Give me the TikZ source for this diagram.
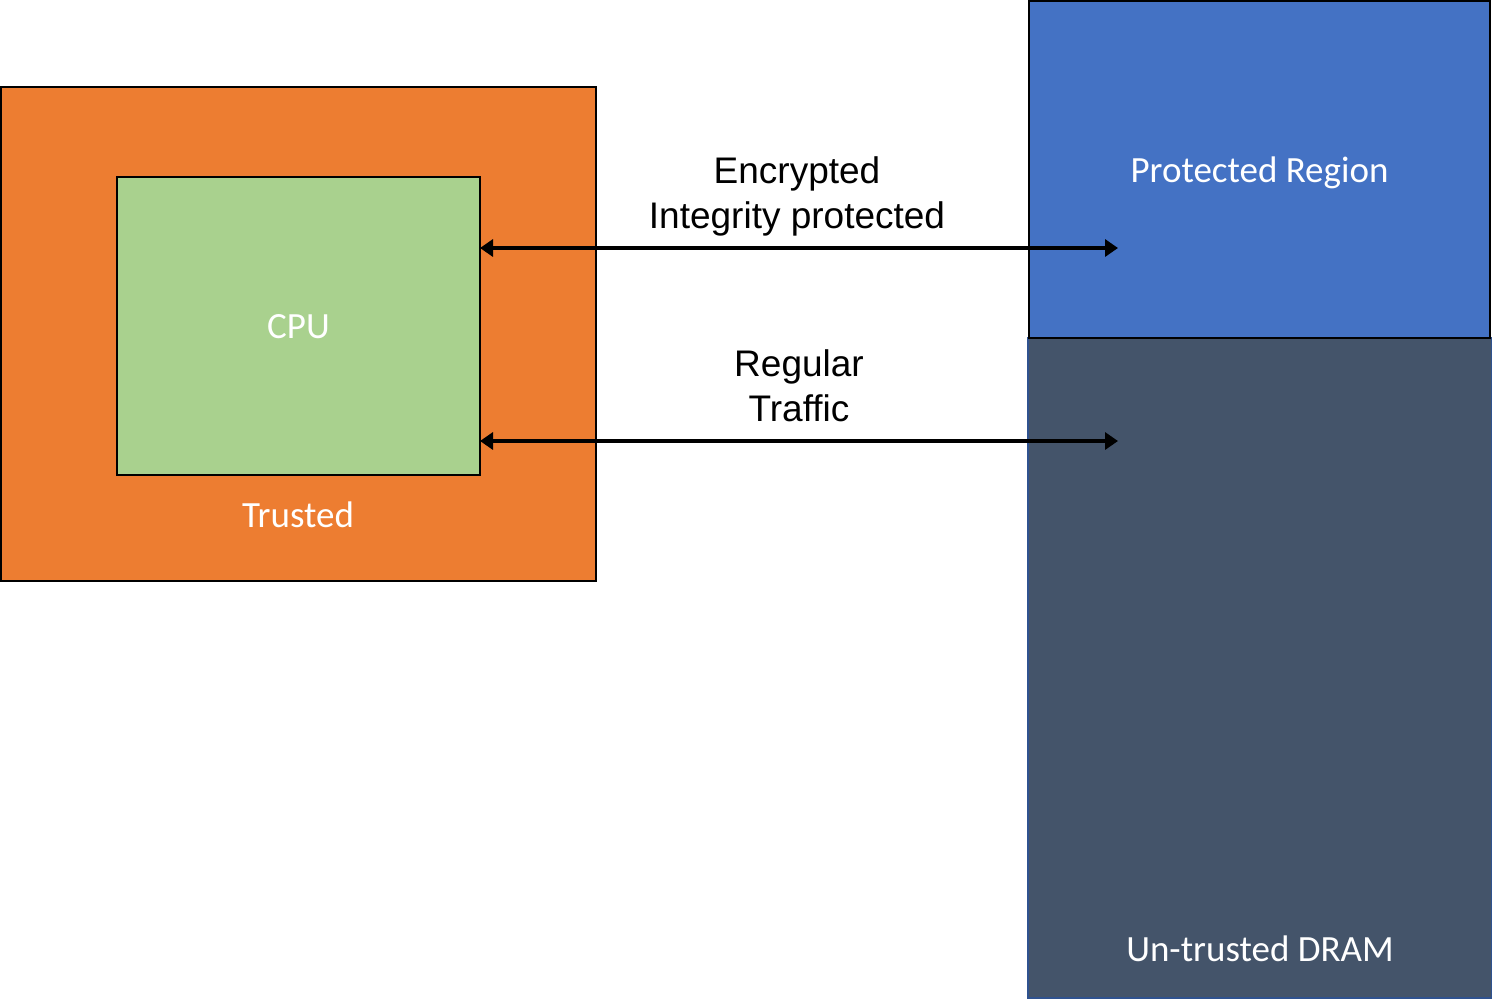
\documentclass[tikz,border=0pt]{standalone}
\usepackage{fontspec}
\setmainfont{Liberation Sans}
\newfontfamily\calibri{Carlito}
\usetikzlibrary{arrows.meta,positioning}

\definecolor{trustorange}{HTML}{ED7D31}
\definecolor{cpugreen}{HTML}{A9D18E}
\definecolor{protblue}{HTML}{4472C4}
\definecolor{dramgray}{HTML}{44546A}
\definecolor{dramedge}{HTML}{2F528F}

\tikzset{
  box/.style={draw=black, line width=0.75pt, anchor=north west, inner sep=0pt, outer sep=0pt,
    text=white, text depth=0pt, font=\calibri\fontsize{18.5}{22}\selectfont},
  whitelbl/.style={text=white, inner sep=0pt, anchor=base, font=\calibri\fontsize{18.5}{22}\selectfont},
  blacklbl/.style={text=black, inner sep=0pt, align=center, font=\fontsize{18.5}{22.5}\selectfont},
  link/.style={line width=2.4pt, {Triangle[length=6.5pt,width=8.5pt]}-{Triangle[length=6.5pt,width=8.5pt]}}
}

\begin{document}
\begin{tikzpicture}[x=0.5pt, y=-0.5pt]
    \useasboundingbox (0,0) rectangle (1492,998);

    % trusted side
    \node[box, fill=trustorange, minimum width=297.5pt, minimum height=247pt] (trusted) at (1,87) {};
    \node[box, fill=cpugreen, minimum width=181.5pt, minimum height=149pt] (cpu) at (117,177) {CPU};
    \node[whitelbl] (trustedlbl) at (298,527) {Trusted};

    % memory side
    \node[box, draw=dramedge, fill=dramgray, minimum width=232pt, minimum height=330pt] (dram) at (1028,338) {};
    \node[box, fill=protblue, minimum width=230.5pt, minimum height=168.5pt] (prot) at (1029,1) {Protected Region};
    \node[whitelbl] (dramlbl) at (1260,961) {Un-trusted DRAM};

    % traffic
    \coordinate (protend) at (1118,248);
    \coordinate (dramend) at (1118,441);
    \draw[link] (cpu.east |- protend) -- (protend);
    \draw[link] (cpu.east |- dramend) -- (dramend);
    \node[blacklbl] (enclbl) at (797,196) {Encrypted\\Integrity protected};
    \node[blacklbl] (reglbl) at (799,386) {Regular\\Traffic};
\end{tikzpicture}
\end{document}
